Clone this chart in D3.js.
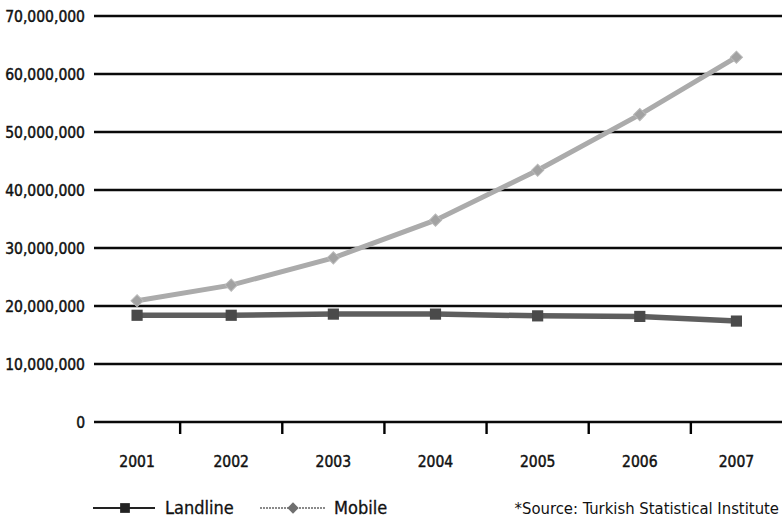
<!DOCTYPE html>
<html><head><meta charset="utf-8">
<script src="https://cdn.jsdelivr.net/npm/d3@7"></script>
<style>
html,body{margin:0;padding:0;background:#fff;}
svg text{font-family:"DejaVu Sans Condensed","DejaVu Sans",sans-serif;font-stretch:condensed;fill:#111;}
</style></head>
<body>
<svg id="chart" width="782" height="522"></svg>
<script>
const years = ["2001","2002","2003","2004","2005","2006","2007"];
const landline = [18400000,18400000,18600000,18600000,18300000,18200000,17400000];
const mobile = [20900000,23600000,28300000,34800000,43400000,53000000,62900000];
const yTicks = [0,10000000,20000000,30000000,40000000,50000000,60000000,70000000];
const sourceNote = "*Source: Turkish Statistical Institute";

const svg = d3.select("#chart");
const plotLeft = 94, plotRight = 782;
const y = d3.scaleLinear().domain([0,70000000]).range([422,16]);
const xb = d3.scaleBand().domain(years).range([78,793]).paddingInner(0).paddingOuter(0);
const xc = d => {
  const a = Math.max(xb(d), plotLeft), b = Math.min(xb(d)+xb.bandwidth(), plotRight);
  return (a+b)/2;
};
const fmt = d3.format(",");

// gridlines
svg.append("g").selectAll("line").data(yTicks).join("line")
  .attr("x1",plotLeft).attr("x2",plotRight)
  .attr("y1",d=>y(d)).attr("y2",d=>y(d))
  .attr("stroke","#0a0a0a").attr("stroke-width",2.4);

// y labels
svg.append("g").selectAll("text").data(yTicks).join("text")
  .attr("x",85).attr("y",d=>y(d)).attr("dy","0.36em")
  .attr("text-anchor","end").attr("font-size",15.5)
  .attr("stroke","#111").attr("stroke-width",0.45)
  .text(d=>fmt(d));

// x ticks at band boundaries
svg.append("g").selectAll("line").data(years.slice(1)).join("line")
  .attr("x1",d=>xb(d)).attr("x2",d=>xb(d))
  .attr("y1",y(0)).attr("y2",y(0)+12)
  .attr("stroke","#000").attr("stroke-width",2.4);

// x labels
svg.append("g").selectAll("text").data(years).join("text")
  .attr("x",d=>xc(d)).attr("y",467)
  .attr("text-anchor","middle").attr("font-size",15.5)
  .attr("stroke","#111").attr("stroke-width",0.45)
  .text(d=>d);

const line = d3.line().x((d,i)=>xc(years[i])).y(d=>y(d));

// mobile
svg.append("path").datum(mobile).attr("d",line)
  .attr("fill","none").attr("stroke","#ababab").attr("stroke-width",5);
const diamond = d3.symbol().type(d3.symbolSquare).size(74);
svg.append("g").selectAll("path").data(mobile).join("path")
  .attr("d",diamond)
  .attr("transform",(d,i)=>`translate(${xc(years[i])},${y(d)}) rotate(45)`)
  .attr("fill","#a2a2a2").attr("stroke","#b8b8b8").attr("stroke-width",1);

// landline
svg.append("path").datum(landline).attr("d",line)
  .attr("fill","none").attr("stroke","#5e5e5e").attr("stroke-width",5.5);
const square = d3.symbol().type(d3.symbolSquare).size(125);
svg.append("g").selectAll("path").data(landline).join("path")
  .attr("d",square)
  .attr("transform",(d,i)=>`translate(${xc(years[i])},${y(d)})`)
  .attr("fill","#4a4a4a");

// legend
const lg = svg.append("g").attr("transform","translate(0,508)");
lg.append("line").attr("x1",93).attr("x2",155).attr("y1",0).attr("y2",0)
  .attr("stroke","#222").attr("stroke-width",2);
lg.append("path").attr("d",d3.symbol().type(d3.symbolSquare).size(95))
  .attr("transform","translate(125,0)").attr("fill","#222");
lg.append("text").attr("x",165).attr("y",0).attr("dy","0.36em").attr("font-size",18)
  .attr("stroke","#111").attr("stroke-width",0.3).text("Landline");
lg.append("line").attr("x1",260).attr("x2",325).attr("y1",0).attr("y2",0)
  .attr("stroke","#8a8a8a").attr("stroke-width",2).attr("stroke-dasharray","2,1");
lg.append("path").attr("d",d3.symbol().type(d3.symbolSquare).size(64))
  .attr("transform","translate(293,0) rotate(45)").attr("fill","#6f6f6f");
lg.append("text").attr("x",334).attr("y",0).attr("dy","0.36em").attr("font-size",18)
  .attr("stroke","#111").attr("stroke-width",0.3).text("Mobile");
lg.append("text").attr("x",779).attr("y",0).attr("dy","0.36em")
  .attr("text-anchor","end").attr("font-size",16.5).text(sourceNote);
</script>
</body></html>
